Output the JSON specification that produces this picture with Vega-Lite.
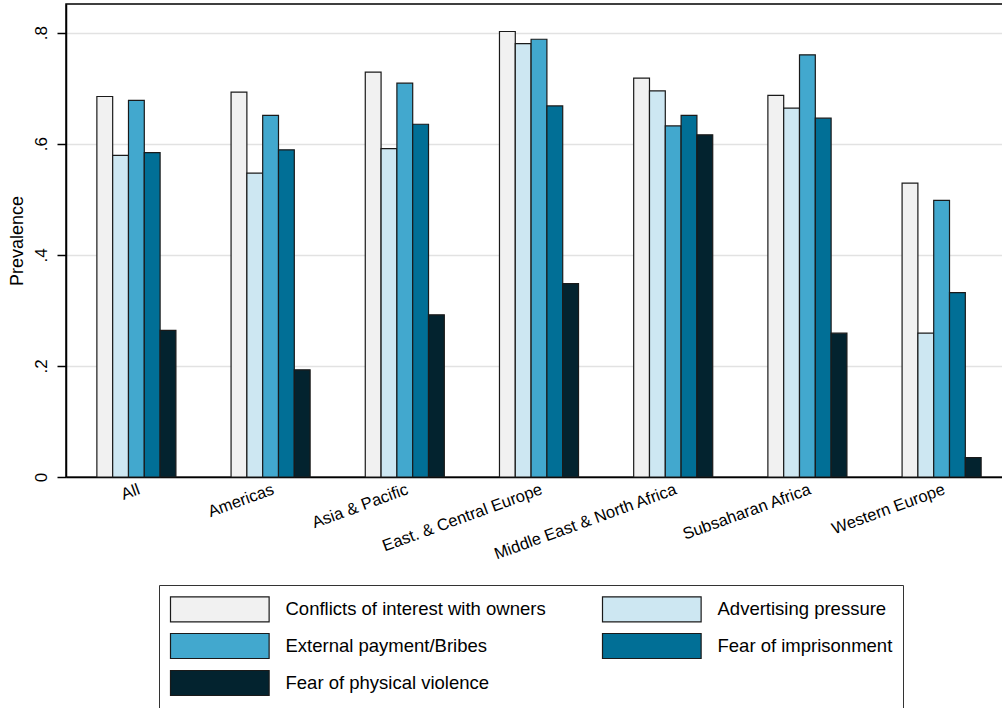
{
  "$schema": "https://vega.github.io/schema/vega-lite/v6.json",
  "autosize": {"type": "none"},
  "padding": {"left": 66, "top": 4, "right": 0, "bottom": 231},
  "width": 946,
  "height": 473,
  "background": "white",
  "config": {
    "font": "Liberation Sans",
    "view": {"stroke": "#000000", "strokeWidth": 1.5}
  },
  "data": {
    "values": [
      {"region": "All", "issue": "Conflicts of interest with owners", "value": 0.685},
      {"region": "All", "issue": "Advertising pressure", "value": 0.579},
      {"region": "All", "issue": "External payment/Bribes", "value": 0.678},
      {"region": "All", "issue": "Fear of imprisonment", "value": 0.584},
      {"region": "All", "issue": "Fear of physical violence", "value": 0.264},
      {"region": "Americas", "issue": "Conflicts of interest with owners", "value": 0.693},
      {"region": "Americas", "issue": "Advertising pressure", "value": 0.547},
      {"region": "Americas", "issue": "External payment/Bribes", "value": 0.651},
      {"region": "Americas", "issue": "Fear of imprisonment", "value": 0.589},
      {"region": "Americas", "issue": "Fear of physical violence", "value": 0.193},
      {"region": "Asia & Pacific", "issue": "Conflicts of interest with owners", "value": 0.729},
      {"region": "Asia & Pacific", "issue": "Advertising pressure", "value": 0.591},
      {"region": "Asia & Pacific", "issue": "External payment/Bribes", "value": 0.709},
      {"region": "Asia & Pacific", "issue": "Fear of imprisonment", "value": 0.635},
      {"region": "Asia & Pacific", "issue": "Fear of physical violence", "value": 0.292},
      {"region": "East. & Central Europe", "issue": "Conflicts of interest with owners", "value": 0.802},
      {"region": "East. & Central Europe", "issue": "Advertising pressure", "value": 0.780},
      {"region": "East. & Central Europe", "issue": "External payment/Bribes", "value": 0.788},
      {"region": "East. & Central Europe", "issue": "Fear of imprisonment", "value": 0.668},
      {"region": "East. & Central Europe", "issue": "Fear of physical violence", "value": 0.348},
      {"region": "Middle East & North Africa", "issue": "Conflicts of interest with owners", "value": 0.718},
      {"region": "Middle East & North Africa", "issue": "Advertising pressure", "value": 0.695},
      {"region": "Middle East & North Africa", "issue": "External payment/Bribes", "value": 0.632},
      {"region": "Middle East & North Africa", "issue": "Fear of imprisonment", "value": 0.651},
      {"region": "Middle East & North Africa", "issue": "Fear of physical violence", "value": 0.616},
      {"region": "Subsaharan Africa", "issue": "Conflicts of interest with owners", "value": 0.687},
      {"region": "Subsaharan Africa", "issue": "Advertising pressure", "value": 0.664},
      {"region": "Subsaharan Africa", "issue": "External payment/Bribes", "value": 0.760},
      {"region": "Subsaharan Africa", "issue": "Fear of imprisonment", "value": 0.646},
      {"region": "Subsaharan Africa", "issue": "Fear of physical violence", "value": 0.259},
      {"region": "Western Europe", "issue": "Conflicts of interest with owners", "value": 0.529},
      {"region": "Western Europe", "issue": "Advertising pressure", "value": 0.259},
      {"region": "Western Europe", "issue": "External payment/Bribes", "value": 0.498},
      {"region": "Western Europe", "issue": "Fear of imprisonment", "value": 0.332},
      {"region": "Western Europe", "issue": "Fear of physical violence", "value": 0.035}
    ]
  },
  "mark": {"type": "bar", "stroke": "#1a1a1a", "strokeWidth": 1.2},
  "encoding": {
    "x": {
      "field": "region",
      "type": "nominal",
      "sort": null,
      "scale": {"paddingInner": 0.411, "paddingOuter": 0.23},
      "axis": {
        "title": null,
        "labelAngle": -20,
        "labelAlign": "right",
        "labelBaseline": "top",
        "labelPadding": 4,
        "labelFontSize": 16.5,
        "labelLimit": 500,
        "labelColor": "#000000",
        "ticks": false,
        "domainColor": "#000000",
        "domainWidth": 1.5,
        "grid": false
      }
    },
    "xOffset": {
      "field": "issue",
      "type": "nominal",
      "sort": ["Conflicts of interest with owners", "Advertising pressure", "External payment/Bribes", "Fear of imprisonment", "Fear of physical violence"],
      "scale": {"paddingInner": 0, "paddingOuter": 0}
    },
    "y": {
      "field": "value",
      "type": "quantitative",
      "scale": {"domain": [0, 0.8515], "nice": false, "zero": true},
      "axis": {
        "title": "Prevalence",
        "titleFontSize": 18,
        "titleFontWeight": "normal",
        "titleColor": "#000000",
        "titlePadding": 6,
        "values": [0, 0.2, 0.4, 0.6, 0.8],
        "labelExpr": "datum.value == 0 ? '0' : replace(format(datum.value, '.1f'), '0.', '.')",
        "labelAngle": 270,
        "labelAlign": "center",
        "labelBaseline": "alphabetic",
        "labelPadding": 11,
        "labelFontSize": 17,
        "labelColor": "#000000",
        "tickSize": 9,
        "tickColor": "#000000",
        "tickWidth": 1.5,
        "domainColor": "#000000",
        "domainWidth": 1.5,
        "grid": true,
        "gridColor": "#e2e2e2",
        "gridWidth": 1.6
      }
    },
    "color": {
      "field": "issue",
      "type": "nominal",
      "sort": ["Conflicts of interest with owners", "Advertising pressure", "External payment/Bribes", "Fear of imprisonment", "Fear of physical violence"],
      "scale": {
        "domain": ["Conflicts of interest with owners", "Advertising pressure", "External payment/Bribes", "Fear of imprisonment", "Fear of physical violence"],
        "range": ["#f1f1f1", "#cde7f2", "#42a8ce", "#016f96", "#03232f"]
      },
      "legend": {
        "title": null,
        "orient": "none",
        "legendX": 93,
        "legendY": 581,
        "columns": 2,
        "direction": "horizontal",
        "padding": 10.5,
        "strokeColor": "#333333",
        "fillColor": "#ffffff",
        "symbolType": "M-1,-1H6.89V1H-1Z",
        "symbolSize": 625,
        "symbolStrokeColor": "#1a1a1a",
        "symbolStrokeWidth": 1.2,
        "symbolOpacity": 1,
        "labelFontSize": 18.5,
        "labelColor": "#000000",
        "labelOffset": 89,
        "labelLimit": 400,
        "rowPadding": 6,
        "columnPadding": 53
      }
    }
  }
}
